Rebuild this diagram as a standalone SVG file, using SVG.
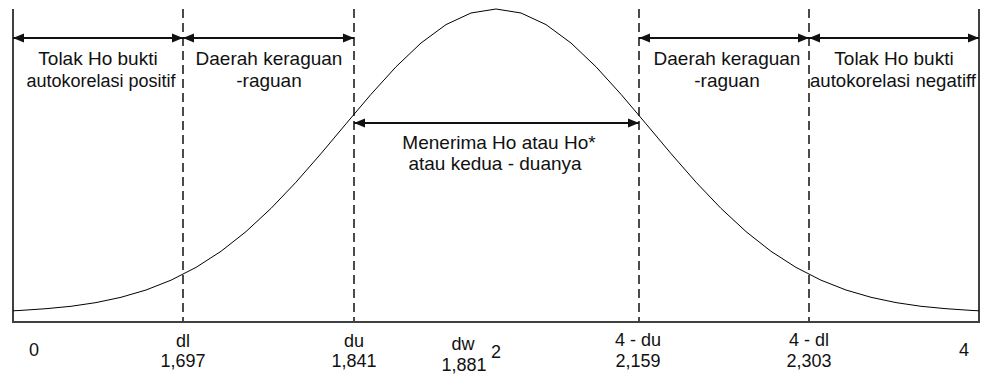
<svg xmlns="http://www.w3.org/2000/svg" width="986" height="374" viewBox="0 0 986 374">
  <style>
    .t { font-family: "Liberation Sans", Arial, sans-serif; font-size: 18px; fill: #111; text-anchor: middle; }
    .r { font-size: 19px; }
    .n { font-size: 18.6px; }
    .frame { stroke: #404040; stroke-width: 2; fill: none; }
    .dash { stroke: #111; stroke-width: 1.5; stroke-dasharray: 9 5; fill: none; }
    .arr { stroke: #111; stroke-width: 2; fill: none; marker-start: url(#ah); marker-end: url(#ah); }
    .curve { stroke: #000; stroke-width: 1; fill: none; }
  </style>
  <defs>
    <marker id="ah" markerUnits="userSpaceOnUse" markerWidth="12" markerHeight="10" refX="11" refY="5" orient="auto-start-reverse">
      <path d="M0,0.5 L11,5 L0,9.5 Z" fill="#111"/>
    </marker>
  </defs>
  <rect width="986" height="374" fill="#fff"/>

  <g id="frame">
    <line class="frame" x1="13" y1="9" x2="13" y2="322"/>
    <line class="frame" x1="979" y1="9" x2="979" y2="322"/>
    <line class="frame" x1="12" y1="322" x2="980" y2="322"/>
  </g>

  <g id="boundaries">
    <line class="dash" x1="183" y1="9" x2="183" y2="321"/>
    <line class="dash" x1="354" y1="9" x2="354" y2="321"/>
    <line class="dash" x1="639" y1="9" x2="639" y2="321"/>
    <line class="dash" x1="809" y1="9" x2="809" y2="321"/>
  </g>

  <g id="curve">
    <polyline class="curve" points="13,310.8 21,310.4 46,308.7 71,306.3 96,302.6 121,297.3 146,290.0 171,280.2 196,267.4 221,251.3 246,231.6 271,208.4 296,182.2 321,153.6 346,123.8 371,94.3 396,66.8 421,43.0 446,24.6 471,13.0 496,9 521,13.0 546,24.6 571,43.0 596,66.8 621,94.3 646,123.8 671,153.6 696,182.2 721,208.4 746,231.6 771,251.3 796,267.4 821,280.2 846,290.0 871,297.3 896,302.6 921,306.3 946,308.7 971,310.4 979,310.8"/>
  </g>

  <g id="connectors">
    <line class="arr" x1="13" y1="38" x2="183" y2="38"/>
    <line class="arr" x1="183" y1="38" x2="354" y2="38"/>
    <line class="arr" x1="639" y1="38" x2="809" y2="38"/>
    <line class="arr" x1="809" y1="38" x2="979" y2="38"/>
    <line class="arr" x1="354" y1="123" x2="639" y2="123"/>
  </g>

  <g id="region-tolak-positif">
    <text class="t r" x="98" y="65">Tolak Ho bukti</text>
    <text class="t" x="101" y="87">autokorelasi positif</text>
  </g>
  <g id="region-ragu-kiri">
    <text class="t r" x="269" y="65">Daerah keraguan</text>
    <text class="t r" x="269" y="87">-raguan</text>
  </g>
  <g id="region-terima">
    <text class="t r" x="499" y="149">Menerima Ho atau Ho*</text>
    <text class="t r" x="495" y="170">atau kedua - duanya</text>
  </g>
  <g id="region-ragu-kanan">
    <text class="t r" x="727" y="65">Daerah keraguan</text>
    <text class="t r" x="727" y="87">-raguan</text>
  </g>
  <g id="region-tolak-negatif">
    <text class="t r" x="894" y="65">Tolak Ho bukti</text>
    <text class="t n" x="893" y="87">autokorelasi negatiff</text>
  </g>

  <g id="axis-labels">
    <text class="t" x="34" y="356">0</text>
    <text class="t" x="183" y="347">dl</text>
    <text class="t" x="183" y="367">1,697</text>
    <text class="t" x="354" y="347">du</text>
    <text class="t" x="354" y="367">1,841</text>
    <text class="t" x="463" y="350">dw</text>
    <text class="t" x="464" y="371">1,881</text>
    <text class="t" x="496" y="358">2</text>
    <text class="t" x="638" y="346">4 - du</text>
    <text class="t" x="638" y="367">2,159</text>
    <text class="t" x="809" y="346">4 - dl</text>
    <text class="t" x="809" y="367">2,303</text>
    <text class="t" x="964" y="356">4</text>
  </g>
</svg>
